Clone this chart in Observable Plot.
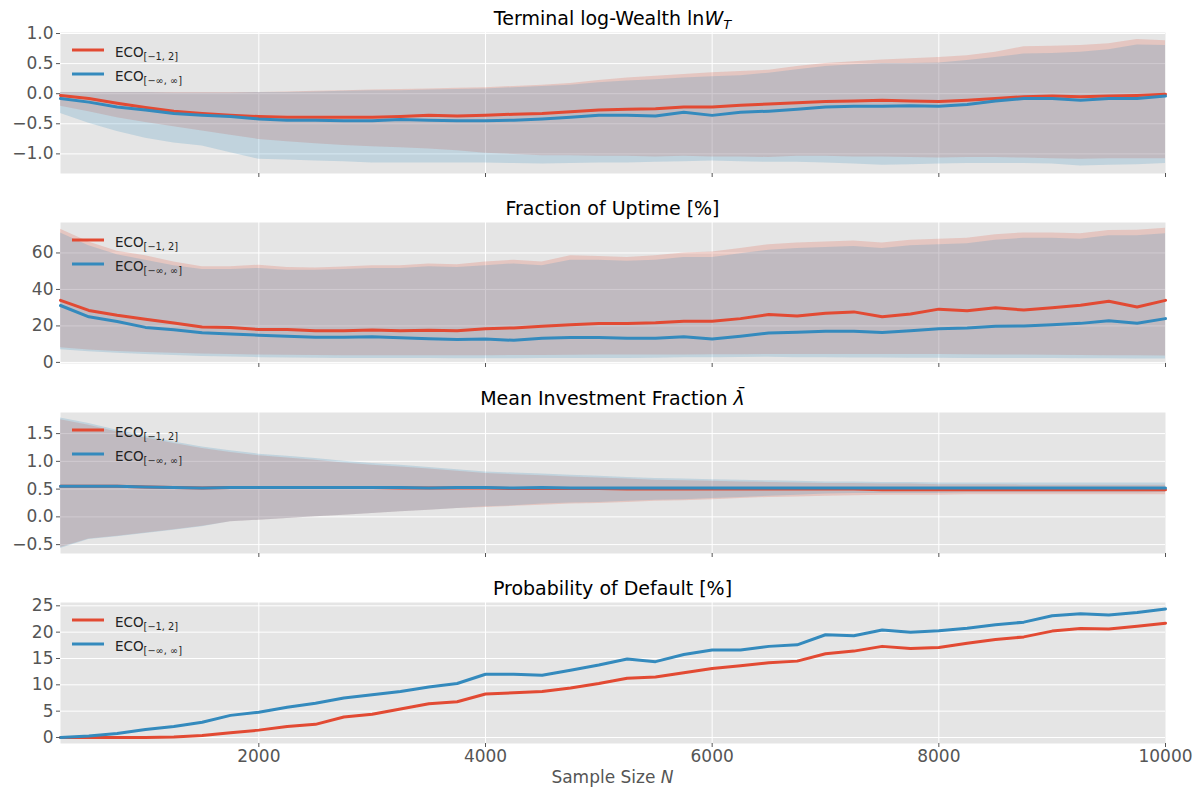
<!DOCTYPE html>
<html><head><meta charset="utf-8">
<script src="https://cdn.jsdelivr.net/npm/d3@7"></script>
<script src="https://cdn.jsdelivr.net/npm/@observablehq/plot@0.6"></script>
<style>
body{margin:0;background:#fff;}
#wrap{position:relative;width:1203px;height:790px;overflow:hidden;font-family:"DejaVu Sans",sans-serif;}
.panel{position:absolute;left:0;}
#overlay{position:absolute;left:0;top:0;pointer-events:none;}
</style></head><body><div id="wrap"></div>
<script>
// ---------- data ----------
const sampleN = [250,500,750,1000,1250,1500,1750,2000,2250,2500,2750,3000,3250,3500,3750,4000,4250,4500,4750,5000,
  5250,5500,5750,6000,6250,6500,6750,7000,7250,7500,7750,8000,8250,8500,8750,9000,9250,9500,9750,10000];
const xTickValues = [2000,4000,6000,8000,10000];
const seriesNames = ["ECO[−1, 2]", "ECO[−∞, ∞]"];
const panelTitles = ["Terminal log-Wealth lnW_T", "Fraction of Uptime [%]", "Mean Investment Fraction λ̄", "Probability of Default [%]"];

// Panel 1: terminal log-wealth
const wealthRedMean = [-0.03,-0.08,-0.16,-0.23,-0.29,-0.33,-0.36,-0.38,-0.39,-0.39,-0.39,-0.39,-0.38,-0.36,-0.37,-0.36,-0.34,-0.33,-0.30,-0.27,
  -0.26,-0.25,-0.22,-0.22,-0.19,-0.17,-0.15,-0.13,-0.12,-0.11,-0.12,-0.13,-0.11,-0.08,-0.05,-0.04,-0.05,-0.04,-0.03,-0.01];
const wealthBlueMean = [-0.08,-0.14,-0.22,-0.27,-0.33,-0.36,-0.38,-0.42,-0.44,-0.44,-0.45,-0.45,-0.43,-0.44,-0.45,-0.45,-0.44,-0.42,-0.39,-0.36,
  -0.36,-0.37,-0.31,-0.36,-0.31,-0.29,-0.26,-0.22,-0.21,-0.21,-0.20,-0.21,-0.18,-0.12,-0.08,-0.08,-0.11,-0.08,-0.08,-0.04];
const wealthRedHi = [0.02,0.02,0.02,0.02,0.02,0.02,0.02,0.02,0.03,0.04,0.05,0.06,0.07,0.08,0.09,0.10,0.12,0.14,0.17,0.22,
  0.26,0.29,0.32,0.35,0.37,0.39,0.45,0.50,0.53,0.56,0.58,0.60,0.63,0.69,0.78,0.79,0.80,0.83,0.90,0.88];
const wealthBlueHi = [0.02,0.02,0.02,0.02,0.01,0.01,0.01,0.02,0.02,0.03,0.04,0.05,0.05,0.06,0.07,0.08,0.10,0.12,0.14,0.18,
  0.21,0.23,0.26,0.28,0.30,0.34,0.40,0.45,0.48,0.50,0.50,0.51,0.55,0.60,0.66,0.67,0.69,0.73,0.81,0.80];
const wealthRedLo = [-0.21,-0.30,-0.40,-0.48,-0.55,-0.62,-0.69,-0.76,-0.80,-0.83,-0.86,-0.88,-0.90,-0.92,-0.95,-0.99,-1.01,-1.03,-1.03,-1.04,
  -1.04,-1.05,-1.04,-1.05,-1.05,-1.06,-1.04,-1.04,-1.05,-1.05,-1.06,-1.07,-1.06,-1.06,-1.07,-1.08,-1.09,-1.08,-1.08,-1.08];
const wealthBlueLo = [-0.33,-0.49,-0.63,-0.74,-0.82,-0.87,-0.98,-1.09,-1.10,-1.12,-1.13,-1.15,-1.15,-1.15,-1.15,-1.15,-1.16,-1.17,-1.16,-1.15,
  -1.15,-1.14,-1.13,-1.12,-1.13,-1.14,-1.14,-1.15,-1.17,-1.19,-1.18,-1.17,-1.16,-1.16,-1.16,-1.17,-1.20,-1.19,-1.18,-1.16];

// Panel 2: fraction of uptime [%]
const uptimeRedMean = [34,28.5,25.8,23.6,21.6,19.4,19.2,18,18,17.3,17.3,17.8,17.3,17.6,17.3,18.5,18.9,19.8,20.7,21.3,
  21.3,21.7,22.5,22.6,24,26.3,25.5,27,27.7,25,26.5,29.2,28.3,30,28.7,30,31.3,33.5,30.4,34];
const uptimeBlueMean = [31.2,25,22.4,19.2,17.9,16.3,15.6,14.9,14.3,13.8,13.8,14.1,13.5,13,12.6,12.8,12.1,13.2,13.6,13.6,
  13.2,13.3,14,12.8,14.4,16.1,16.6,17.1,17.1,16.4,17.3,18.5,18.8,19.8,20,20.7,21.4,22.9,21.5,24];
const uptimeRedHi = [73,66,61,58.5,55,52.5,52.5,53.3,52,51.8,52.3,53,53,54,53.5,55,56,55,58.5,58,
  57.5,58.5,60,60.5,62.5,64.5,65.5,66,66.5,65.5,67,67.5,68,70,71,71,70.5,72.3,72.5,73.5];
const uptimeBlueHi = [71,64,59,56,53,51,51,51.5,50.5,50.5,51,51.5,51.5,52.5,52,53,54,53,56,56,
  55.5,56,57.5,57.5,59.5,61.5,62.5,63,63.5,62.5,64,64.5,65,67,68,68,67.5,69.5,69.5,70.5];
const uptimeRedLo = [8,6.8,6,5.4,5,4.6,4.3,4,3.9,3.8,3.7,3.7,3.6,3.6,3.7,3.7,3.8,3.8,3.9,4.0,
  4.0,4.1,4.1,4.2,4.2,4.3,4.3,4.3,4.4,4.4,4.3,4.3,4.2,4.1,4.0,3.9,3.8,3.7,3.6,3.5];
const uptimeBlueLo = [7,5.8,5,4.3,3.8,3.3,2.9,2.6,2.4,2.3,2.2,2.2,2.1,2.1,2.0,2.0,2.0,2.1,2.1,2.2,
  2.2,2.3,2.5,2.6,2.7,2.8,2.6,2.5,2.4,2.4,2.3,2.3,2.2,2.2,2.1,2.1,2.0,2.0,1.9,1.9];

// Panel 3: mean investment fraction
const lambdaRedMean = [0.55,0.55,0.55,0.54,0.53,0.52,0.53,0.53,0.53,0.53,0.53,0.53,0.52,0.52,0.52,0.52,0.51,0.51,0.51,0.51,
  0.50,0.50,0.50,0.50,0.50,0.50,0.50,0.50,0.50,0.49,0.49,0.49,0.49,0.49,0.49,0.49,0.49,0.49,0.49,0.49];
const lambdaBlueMean = [0.55,0.55,0.55,0.54,0.53,0.52,0.53,0.53,0.53,0.53,0.53,0.53,0.53,0.52,0.53,0.53,0.52,0.53,0.52,0.52,
  0.52,0.52,0.52,0.52,0.52,0.52,0.52,0.52,0.52,0.52,0.52,0.52,0.52,0.52,0.52,0.52,0.52,0.52,0.52,0.52];
const lambdaRedHi = [1.75,1.65,1.53,1.42,1.32,1.23,1.16,1.10,1.06,1.02,0.97,0.93,0.90,0.86,0.82,0.78,0.76,0.74,0.72,0.70,
  0.68,0.66,0.65,0.64,0.63,0.62,0.61,0.60,0.60,0.59,0.59,0.58,0.58,0.58,0.57,0.57,0.57,0.57,0.57,0.57];
const lambdaBlueHi = [1.78,1.68,1.56,1.45,1.35,1.26,1.19,1.13,1.09,1.05,1.00,0.96,0.93,0.89,0.85,0.81,0.79,0.77,0.75,0.73,
  0.71,0.69,0.68,0.67,0.66,0.65,0.64,0.63,0.63,0.62,0.62,0.61,0.61,0.61,0.61,0.61,0.61,0.61,0.61,0.61];
const lambdaRedLo = [-0.55,-0.40,-0.35,-0.29,-0.23,-0.17,-0.09,-0.06,-0.03,0.00,0.03,0.06,0.09,0.12,0.15,0.17,0.19,0.21,0.23,0.24,
  0.26,0.28,0.29,0.31,0.33,0.35,0.36,0.37,0.38,0.39,0.39,0.39,0.40,0.40,0.40,0.40,0.40,0.40,0.40,0.40];
const lambdaBlueLo = [-0.57,-0.41,-0.36,-0.30,-0.24,-0.18,-0.09,-0.06,-0.03,0.00,0.03,0.06,0.09,0.12,0.15,0.18,0.20,0.23,0.25,0.26,
  0.28,0.30,0.31,0.33,0.35,0.37,0.39,0.41,0.42,0.42,0.42,0.42,0.43,0.43,0.43,0.43,0.43,0.43,0.43,0.44];

// Panel 4: probability of default [%]
const defaultRed = [0,0,0,0,0.1,0.4,0.9,1.4,2.1,2.5,3.9,4.4,5.4,6.4,6.8,8.25,8.5,8.75,9.4,10.25,
  11.25,11.5,12.3,13.1,13.6,14.2,14.5,15.9,16.4,17.3,16.9,17.1,17.9,18.6,19.1,20.2,20.7,20.6,21.1,21.7];
const defaultBlue = [0,0.3,0.75,1.5,2.1,2.9,4.2,4.8,5.75,6.5,7.5,8.1,8.75,9.6,10.25,12,12,11.8,12.75,13.75,
  14.9,14.4,15.75,16.6,16.6,17.3,17.6,19.5,19.3,20.4,20,20.25,20.75,21.4,21.9,23.1,23.5,23.25,23.75,24.4];

// axis ticks per panel
const wealthTicks = [-1.0,-0.5,0.0,0.5,1.0];
const uptimeTicks = [0,20,40,60];
const lambdaTicks = [-0.5,0.0,0.5,1.0,1.5];
const defaultTicks = [0,5,10,15,20,25];

// ---------- layout ----------
const RED = "#E24A33", BLUE = "#348ABD";
const W = 1203, X0 = 60, X1 = 1165, PH = 141;
const panelTops = [32, 222, 412, 602];

const panels = [
  {red: wealthRedMean, blue: wealthBlueMean, rlo: wealthRedLo, rhi: wealthRedHi, blo: wealthBlueLo, bhi: wealthBlueHi,
   yDomain: [-1.326, 1.017], yTicks: wealthTicks, fmt: d3.format(".1f")},
  {red: uptimeRedMean, blue: uptimeBlueMean, rlo: uptimeRedLo, rhi: uptimeRedHi, blo: uptimeBlueLo, bhi: uptimeBlueHi,
   yDomain: [-0.6, 76.7], yTicks: uptimeTicks, fmt: d3.format("d")},
  {red: lambdaRedMean, blue: lambdaBlueMean, rlo: lambdaRedLo, rhi: lambdaRedHi, blo: lambdaBlueLo, bhi: lambdaBlueHi,
   yDomain: [-0.66, 1.88], yTicks: lambdaTicks, fmt: d3.format(".1f")},
  {red: defaultRed, blue: defaultBlue,
   yDomain: [-1.14, 25.63], yTicks: defaultTicks, fmt: d3.format("d"), last: true}
];

const wrap = document.getElementById("wrap");

panels.forEach((cfg, k) => {
  const mt = 6, mb = cfg.last ? 34 : 8;
  const rows = sampleN.map((n, i) => ({
    N: n, rm: cfg.red[i], bm: cfg.blue[i],
    rlo: cfg.rlo ? cfg.rlo[i] : null, rhi: cfg.rhi ? cfg.rhi[i] : null,
    blo: cfg.blo ? cfg.blo[i] : null, bhi: cfg.bhi ? cfg.bhi[i] : null
  }));
  const marks = [
    Plot.frame({fill: "#E5E5E5", stroke: "none"}),
    Plot.gridX([2000,4000,6000,8000], {stroke: "#fff", strokeOpacity: 1, strokeWidth: 1}),
    Plot.gridY(cfg.yTicks, {stroke: "#fff", strokeOpacity: 1, strokeWidth: 1})
  ];
  if (cfg.rlo) {
    marks.push(Plot.areaY(rows, {x: "N", y1: "rlo", y2: "rhi", fill: RED, fillOpacity: 0.2}));
    marks.push(Plot.areaY(rows, {x: "N", y1: "blo", y2: "bhi", fill: BLUE, fillOpacity: 0.2}));
  }
  marks.push(Plot.lineY(rows, {x: "N", y: "rm", stroke: RED, strokeWidth: 3}));
  marks.push(Plot.lineY(rows, {x: "N", y: "bm", stroke: BLUE, strokeWidth: 3}));
  marks.push(Plot.axisX({ticks: xTickValues, tickSize: 4, tickPadding: 2, label: null, fontSize: 17,
    tickFormat: cfg.last ? (d => String(d)) : (() => "")}));
  marks.push(Plot.axisY({ticks: cfg.yTicks, tickSize: 4, tickPadding: 3, label: null, fontSize: 17, tickFormat: cfg.fmt}));
  const svg = Plot.plot({
    width: W, height: PH + mt + mb,
    marginLeft: X0, marginRight: W - X1, marginTop: mt, marginBottom: mb,
    x: {domain: [250, 10000]},
    y: {domain: cfg.yDomain},
    style: {fontFamily: "DejaVu Sans", fontSize: "17px", background: "transparent", color: "#555", overflow: "visible"},
    marks
  });
  const div = document.createElement("div");
  div.className = "panel";
  div.style.top = (panelTops[k] - mt) + "px";
  div.appendChild(svg);
  wrap.appendChild(div);
});

// ---------- overlay: titles, legends, x label ----------
const NS = "http://www.w3.org/2000/svg";
const ov = document.createElementNS(NS, "svg");
ov.setAttribute("id", "overlay");
ov.setAttribute("width", W); ov.setAttribute("height", 790);
ov.setAttribute("font-family", "DejaVu Sans");
wrap.appendChild(ov);
function el(tag, attrs, parent) {
  const e = document.createElementNS(NS, tag);
  for (const a in attrs) e.setAttribute(a, attrs[a]);
  (parent || ov).appendChild(e);
  return e;
}
function tspan(parent, text, attrs) { const t = el("tspan", attrs || {}, parent); t.textContent = text; return t; }

const cx = (X0 + X1) / 2;
panelTops.forEach((top, k) => {
  const t = el("text", {x: cx, y: top - 7, "text-anchor": "middle", "font-size": 19, fill: "#000"});
  if (k === 0) {
    tspan(t, "Terminal log-Wealth ln");
    tspan(t, "W", {"font-style": "italic"});
    tspan(t, "T", {"font-style": "italic", "font-size": 13, dy: 4});
  } else if (k === 2) {
    tspan(t, "Mean Investment Fraction ");
    tspan(t, "λ̄", {"font-style": "italic"});
  } else {
    tspan(t, panelTitles[k]);
  }
  // legend
  [[RED, "[−1, 2]", 18], [BLUE, "[−∞, ∞]", 42]].forEach(([c, sub, dy]) => {
    el("line", {x1: 72, x2: 104, y1: top + dy, y2: top + dy, stroke: c, "stroke-width": 3});
    const lt = el("text", {x: 115, y: top + dy + 7, "font-size": 13.5, fill: "#222"});
    tspan(lt, "ECO");
    tspan(lt, sub, {"font-size": 9.8, dy: 3});
  });
});
const xl = el("text", {x: cx, y: 783, "text-anchor": "middle", "font-size": 17, fill: "#555"});
tspan(xl, "Sample Size ");
tspan(xl, "N", {"font-style": "italic"});
</script>
</body></html>
